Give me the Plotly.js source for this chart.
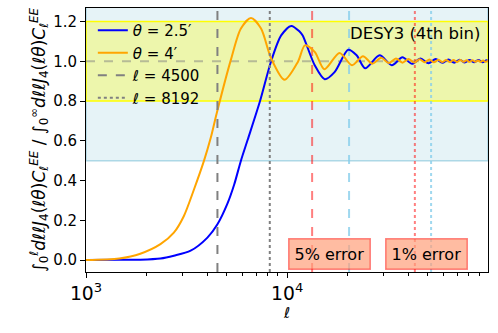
<!DOCTYPE html>
<html>
<head>
<meta charset="utf-8">
<script src="https://cdn.plot.ly/plotly-3.0.1.min.js"></script>
<style>
  body { margin: 0; padding: 0; background: #fff; }
  #chart { width: 498px; height: 333px; }
</style>
</head>
<body>
<div id="chart"></div>
<script>
// cumulative ratio, theta = 2.5 arcmin
let ell_b = [1000, 1462, 1862, 2344, 2733, 3311, 4013, 4500, 5051, 5452, 5888, 6361, 7328, 8318, 9333,
  10470, 11520, 11940, 13700, 15370, 17240, 20100, 22130, 24400, 28800, 33100, 37400, 41700, 46000,
  50400, 54700, 59000, 63300, 67600, 72000, 76300, 80600, 84900, 89200, 93600, 97900, 100000];
let ratio_b = [0.0, 0.001, 0.002, 0.008, 0.022, 0.047, 0.113, 0.18, 0.285, 0.38, 0.5, 0.605, 0.8, 1.0, 1.13,
  1.178, 1.15, 1.13, 0.98, 0.91, 0.947, 1.058, 1.03, 0.965, 1.03, 0.98, 1.02, 0.987, 1.014,
  0.99, 1.011, 0.992, 1.009, 0.993, 1.008, 0.994, 1.007, 0.995, 1.006, 0.995, 1.005, 1.0];

// cumulative ratio, theta = 4 arcmin
let ell_o = [1000, 1462, 1862, 2344, 2733, 3066, 3440, 3860, 4169, 4467, 5248, 5888, 6607, 7413, 8318, 9694,
  11313, 12250, 13700, 15300, 18200, 21000, 23800, 26500, 29300, 32000, 34700, 37400, 40100, 42800,
  45500, 48200, 50900, 53600, 56300, 59000, 61700, 64400, 67100, 69800, 72500, 75200, 77900, 80600,
  83300, 86000, 88700, 91400, 94100, 96800, 99500];
let ratio_o = [0.0, 0.008, 0.032, 0.08, 0.138, 0.222, 0.355, 0.5, 0.615, 0.74, 1.007, 1.165, 1.218, 1.165, 1.015, 0.907,
  0.998, 1.08, 1.047, 0.96, 1.042, 0.98, 1.025, 0.988, 1.018, 0.991, 1.014, 0.993, 1.012, 0.994,
  1.01, 0.995, 1.009, 0.995, 1.008, 0.996, 1.007, 0.996, 1.006, 0.996, 1.006, 0.997, 1.005, 0.997,
  1.005, 0.997, 1.004, 0.997, 1.004, 0.997, 1.004];

// ell cuts and error crossings
let ell_cuts = [4500, 8192];
let err5_ells = [13300, 20300];
let err1_ells = [43100, 51900];
let err_labels = ['5% error', '1% error'];
let err_label_ells = [16300, 49000];

let yRange = [-0.06, 1.268];
let xRange = [3, 4.998];

function vline(x, color, dash, name, show) {
  return {
    x: [x, x], y: yRange, mode: 'lines', name: name, showlegend: show,
    line: {color: color, dash: dash, width: 2}, hoverinfo: 'skip'
  };
}

var data = [
  vline(err5_ells[0], 'rgba(255,0,0,0.5)', 'dash', '', false),
  vline(err5_ells[1], 'rgba(135,206,235,0.8)', 'dash', '', false),
  vline(err1_ells[0], 'rgba(255,0,0,0.5)', 'dot', '', false),
  vline(err1_ells[1], 'rgba(135,206,235,0.8)', 'dot', '', false),
  {x: ell_b, y: ratio_b, mode: 'lines', name: '<i>θ</i> = 2.5′', line: {color: '#0000ff', width: 2, shape: 'spline', smoothing: 0.8}},
  {x: ell_o, y: ratio_o, mode: 'lines', name: '<i>θ</i> = 4′', line: {color: '#ffa500', width: 2, shape: 'spline', smoothing: 0.8}},
  vline(ell_cuts[0], 'grey', 'dash', '<i>ℓ</i> = 4500', true),
  vline(ell_cuts[1], 'grey', 'dot', '<i>ℓ</i> = 8192', true)
];

var annotations = err_labels.map((t, i) => ({
  x: Math.log10(err_label_ells[i]), y: 0.03, xref: 'x', yref: 'y',
  text: t, showarrow: false,
  font: {size: 16, color: '#000'},
  bgcolor: 'rgba(255,160,122,0.7)', bordercolor: 'rgba(255,0,0,0.45)', borderwidth: 1.5, borderpad: 5
}));
annotations.push({
  x: 0.987, y: 0.905, xref: 'paper', yref: 'paper', xanchor: 'right', yanchor: 'middle',
  text: 'DESY3 (4th bin)', showarrow: false, font: {size: 16.5, color: '#000'}
});

var layout = {
  width: 498, height: 333,
  margin: {l: 86, r: 10, t: 8, b: 61},
  paper_bgcolor: '#fff', plot_bgcolor: '#fff',
  font: {family: 'DejaVu Sans', size: 15, color: '#000'},
  showlegend: true,
  legend: {x: 0.017, y: 0.977, xanchor: 'left', yanchor: 'top', bgcolor: 'rgba(0,0,0,0)',
    font: {size: 15}, tracegroupgap: 0, itemwidth: 30},
  xaxis: {
    type: 'log', range: xRange,
    tickmode: 'linear', tick0: 0, dtick: 1, exponentformat: 'power',
    ticks: 'outside', ticklen: 5, tickcolor: '#000', showgrid: false, zeroline: false,
    showline: true, linecolor: '#000', linewidth: 1, mirror: true,
    minor: {dtick: 'D1', ticks: 'outside', ticklen: 3, tickcolor: '#000'},
    title: {text: '<i>ℓ</i>', font: {size: 15}, standoff: 4}
  },
  yaxis: {
    range: yRange, tickvals: [0, 0.2, 0.4, 0.6, 0.8, 1.0, 1.2], tickformat: '.1f',
    ticks: 'outside', ticklen: 5, tickcolor: '#000', showgrid: false, zeroline: false,
    showline: true, linecolor: '#000', linewidth: 1, mirror: true,
    title: {text: '∫<sub>0</sub><sup><i>ℓ</i></sup><i>dℓℓJ</i><sub>4</sub>(<i>ℓθ</i>)<i>C</i><sub><i>ℓ</i></sub><sup><i>EE</i></sup> / ∫<sub>0</sub><sup>∞</sup><i>dℓℓJ</i><sub>4</sub>(<i>ℓθ</i>)<i>C</i><sub><i>ℓ</i></sub><sup><i>EE</i></sup>',
      font: {size: 17}, standoff: 3}
  },
  shapes: [
    {type: 'rect', xref: 'paper', yref: 'y', x0: 0, x1: 1, y0: 0.5, y1: 1.5, layer: 'below',
      fillcolor: 'rgba(173,216,230,0.3)', line: {color: 'rgba(173,216,230,1)', width: 1.5}},
    {type: 'rect', xref: 'paper', yref: 'y', x0: 0, x1: 1, y0: 0.8, y1: 1.2, layer: 'below',
      fillcolor: 'rgba(255,255,0,0.3)', line: {color: '#ffff00', width: 1.5}},
    {type: 'line', xref: 'paper', yref: 'y', x0: 0, x1: 1, y0: 1.0, y1: 1.0, layer: 'below',
      line: {color: 'rgba(128,128,128,0.5)', width: 2, dash: 'dash'}}
  ],
  annotations: annotations
};

Plotly.newPlot('chart', data, layout, {displayModeBar: false, staticPlot: true});
</script>
</body>
</html>
